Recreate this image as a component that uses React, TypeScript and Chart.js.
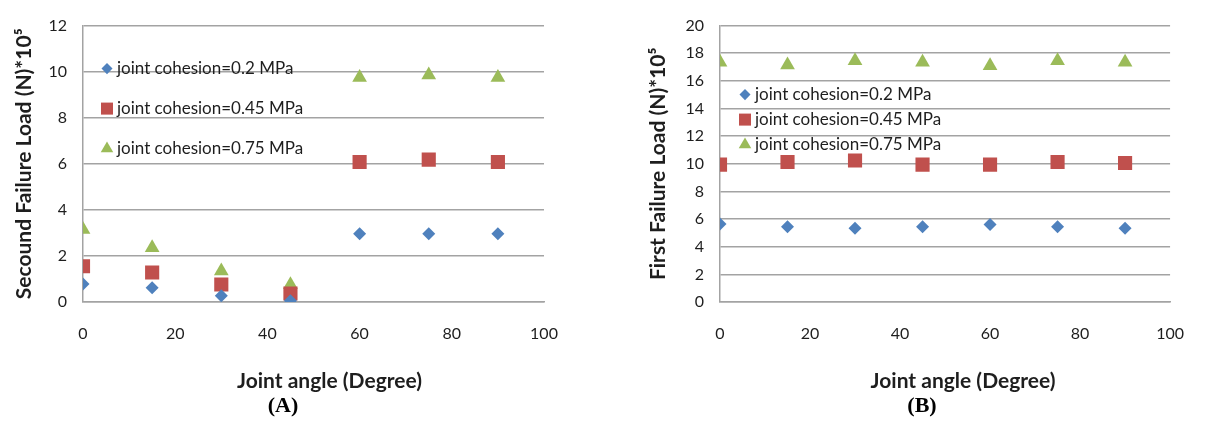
import React, { useEffect, useRef } from "react";
import { Chart, registerables } from "chart.js";

Chart.register(...registerables);

const jointAngles = [0, 15, 30, 45, 60, 75, 90];
const seriesLabels = [
  "joint cohesion=0.2 MPa",
  "joint cohesion=0.45 MPa",
  "joint cohesion=0.75 MPa",
];
const seriesColors = ["#4F81BD", "#C0504D", "#9BBB59"];
const seriesShapes = ["rectRot", "rect", "triangle"];
const seriesRadius = [6.5, 10, 8.5];

// (A) Second failure load (N)*10^5
const secondLoad02 = [0.78, 0.62, 0.27, 0.05, 2.96, 2.96, 2.96];
const secondLoad045 = [1.55, 1.28, 0.76, 0.37, 6.08, 6.18, 6.08];
const secondLoad075 = [3.15, 2.35, 1.35, 0.75, 9.75, 9.85, 9.75];

// (B) First failure load (N)*10^5
const firstLoad02 = [5.64, 5.44, 5.34, 5.44, 5.6, 5.44, 5.34];
const firstLoad045 = [9.94, 10.13, 10.24, 9.94, 9.94, 10.13, 10.06];
const firstLoad075 = [17.35, 17.15, 17.45, 17.35, 17.1, 17.45, 17.35];

const xTitle = "Joint angle (Degree)";
const yTitleA = "Secound Failure Load (N)*10\u2075";
const yTitleB = "First Failure Load (N)*10\u2075";
const captionA = "(A)";
const captionB = "(B)";

const FONT = "Lato, 'Open Sans', sans-serif";
const GRID = "#a3a3a3";
const TEXT = "#1e1e1e";

function drawShape(ctx: CanvasRenderingContext2D, shape: string, x: number, y: number, r: number) {
  ctx.beginPath();
  if (shape === "rectRot") {
    ctx.moveTo(x, y - r);
    ctx.lineTo(x + r, y);
    ctx.lineTo(x, y + r);
    ctx.lineTo(x - r, y);
  } else if (shape === "rect") {
    const s = r * Math.SQRT1_2;
    ctx.rect(x - s, y - s, 2 * s, 2 * s);
  } else {
    const a = (2 * Math.PI) / 3;
    ctx.moveTo(x, y - r);
    ctx.lineTo(x + Math.sin(a) * r, y - Math.cos(a) * r);
    ctx.lineTo(x + Math.sin(2 * a) * r, y - Math.cos(2 * a) * r);
  }
  ctx.closePath();
  ctx.fill();
}

function makeExtrasPlugin(dx: number, dys: number[], titleShift: number) {
  return {
    id: "insideLegendAndTitle",
    afterDraw(chart: any) {
      const { ctx, chartArea } = chart;
      ctx.save();
      chart.data.datasets.forEach((ds: any, i: number) => {
        const x = chartArea.left + dx;
        const y = chartArea.top + dys[i];
        ctx.fillStyle = seriesColors[i];
        drawShape(ctx, seriesShapes[i], x, y, seriesRadius[i] * 0.85);
        ctx.fillStyle = TEXT;
        ctx.font = `17px ${FONT}`;
        ctx.textAlign = "left";
        ctx.textBaseline = "middle";
        ctx.fillText(ds.label, x + 10, y);
      });
      // x-axis title (offset to the right like the original)
      ctx.fillStyle = TEXT;
      ctx.font = `bold 21px ${FONT}`;
      ctx.textAlign = "center";
      ctx.textBaseline = "middle";
      ctx.fillText(xTitle, (chartArea.left + chartArea.right) / 2 + titleShift, 381);
      ctx.restore();
    },
  };
}

type PanelProps = {
  width: number;
  height: number;
  series: number[][];
  yMax: number;
  yTitle: string;
  yAxisWidth: number;
  yTitlePad: number;
  padRight: number;
  padTop: number;
  legendDx: number;
  legendDys: number[];
  titleShift: number;
};

function Panel(p: PanelProps) {
  const ref = useRef<HTMLCanvasElement | null>(null);
  useEffect(() => {
    if (!ref.current) return;
    const chart = new Chart(ref.current, {
      type: "scatter",
      data: {
        datasets: p.series.map((vals, i) => ({
          label: seriesLabels[i],
          data: jointAngles.map((a, j) => ({ x: a, y: vals[j] })),
          pointStyle: seriesShapes[i] as any,
          pointRadius: seriesRadius[i],
          backgroundColor: seriesColors[i],
          borderColor: seriesColors[i],
          borderWidth: 0,
        })),
      },
      options: {
        responsive: false,
        animation: false,
        layout: { padding: { left: 0, right: p.padRight, top: p.padTop, bottom: 0 } },
        plugins: { legend: { display: false }, tooltip: { enabled: false } },
        scales: {
          x: {
            type: "linear",
            min: 0,
            max: 100,
            ticks: { stepSize: 20, padding: 22, color: TEXT, font: { family: FONT, size: 16 } },
            grid: { display: false, drawTicks: false },
            border: { display: true, color: GRID, width: 1.5 },
            title: { display: false },
            afterFit: (s: any) => {
              s.height = p.height - 302;
            },
          },
          y: {
            min: 0,
            max: p.yMax,
            ticks: { stepSize: 2, padding: 16, color: TEXT, font: { family: FONT, size: 16 } },
            grid: { display: true, drawTicks: false, color: GRID, lineWidth: 1.5 },
            border: { display: true, color: GRID, width: 1.5 },
            title: {
              display: true,
              text: p.yTitle,
              color: TEXT,
              font: { family: FONT, size: 21, weight: "bold" },
              padding: { top: p.yTitlePad, bottom: 0 },
            },
            afterFit: (s: any) => {
              s.width = p.yAxisWidth;
            },
          },
        },
      },
      plugins: [makeExtrasPlugin(p.legendDx, p.legendDys, p.titleShift)],
    });
    return () => chart.destroy();
  }, []);
  return <canvas ref={ref} width={p.width} height={p.height} style={{ display: "block" }} />;
}

const captionStyle: React.CSSProperties = {
  position: "absolute",
  top: 391,
  fontFamily: "'Liberation Serif', 'Times New Roman', serif",
  fontWeight: "bold",
  fontSize: 22,
  color: "#000",
  lineHeight: "28px",
  width: 60,
  textAlign: "center",
};

export default function App() {
  return (
    <div style={{ position: "fixed", left: 0, top: 0, width: 1206, height: 423, background: "#fff" }}>
      <div style={{ position: "absolute", left: 0, top: 0 }}>
        <Panel
          width={603}
          height={423}
          series={[secondLoad02, secondLoad045, secondLoad075]}
          yMax={12}
          yTitle={yTitleA}
          yAxisWidth={83}
          yTitlePad={12}
          padRight={59}
          padTop={14}
          legendDx={24}
          legendDys={[43, 83, 123]}
          titleShift={16}
        />
      </div>
      <div style={{ position: "absolute", left: 603, top: 0 }}>
        <Panel
          width={603}
          height={423}
          series={[firstLoad02, firstLoad045, firstLoad075]}
          yMax={20}
          yTitle={yTitleB}
          yAxisWidth={117}
          yTitlePad={43}
          padRight={28}
          padTop={15}
          legendDx={25}
          legendDys={[69, 94, 119]}
          titleShift={18}
        />
      </div>
      <div style={{ ...captionStyle, left: 253 }}>{captionA}</div>
      <div style={{ ...captionStyle, left: 892 }}>{captionB}</div>
    </div>
  );
}
